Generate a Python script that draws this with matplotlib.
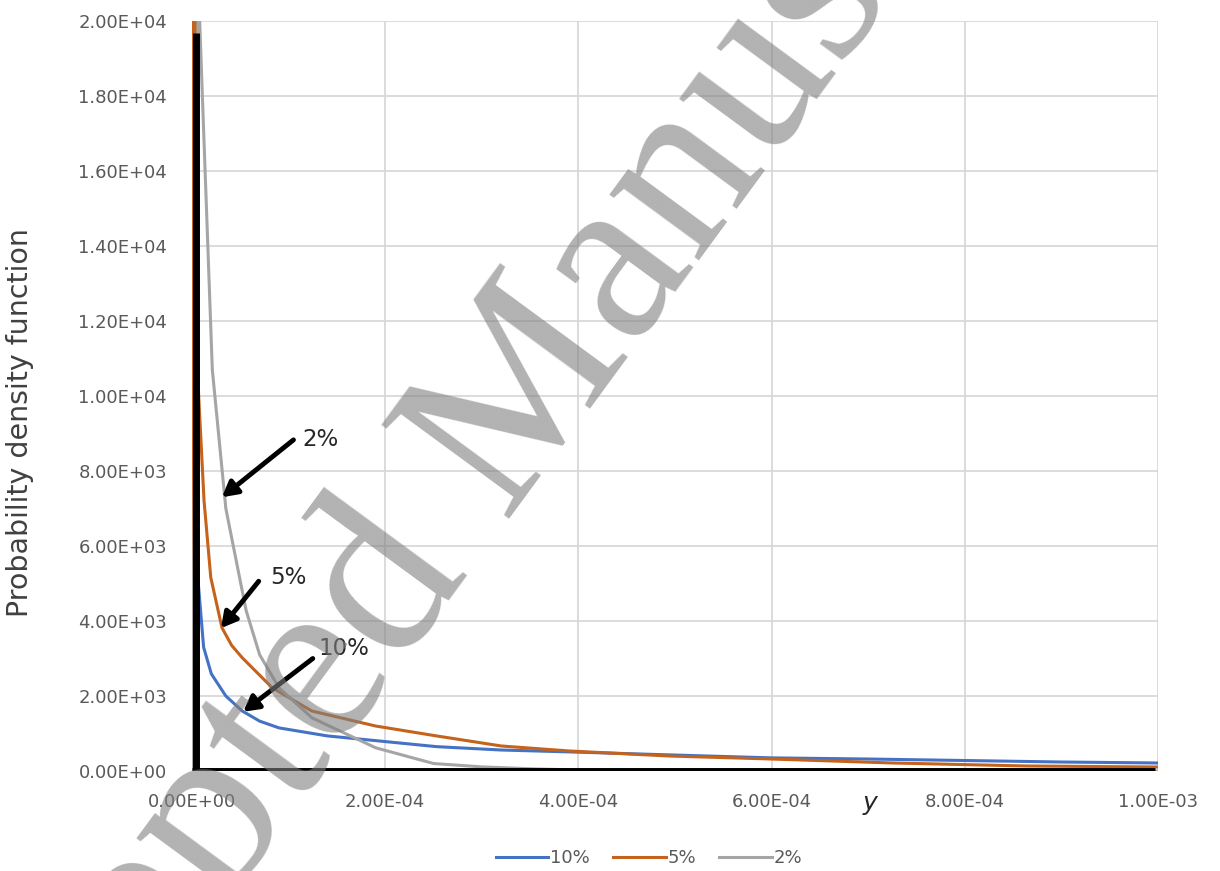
import matplotlib
matplotlib.use("Agg")
import matplotlib.pyplot as plt
from matplotlib.ticker import FuncFormatter

# Series (x in m, pdf values)
x_10 = [0, 3e-6, 6.5e-6, 1.2e-5, 2.0e-5, 3.5e-5, 5.2e-5, 7.0e-5, 9.0e-5, 1.4e-4, 1.94e-4, 2.53e-4,
        3.2e-4, 3.9e-4, 4.94e-4, 6.0e-4, 7.0e-4, 8.0e-4, 9.0e-4, 1.0e-3]
pdf_10 = [0, 5600, 5000, 3300, 2590, 2000, 1600, 1330, 1150, 936, 800, 650,
          560, 510, 430, 350, 320, 280, 240, 214]

x_5 = [0, 2e-6, 6.5e-6, 1.24e-5, 1.94e-5, 3.1e-5, 4.1e-5, 5.2e-5, 8.3e-5, 1.24e-4, 1.9e-4,
       2.53e-4, 3.2e-4, 3.9e-4, 4.94e-4, 6.0e-4, 7.25e-4, 8.64e-4, 1.0e-3]
pdf_5 = [0, 30000, 10200, 7220, 5160, 3820, 3350, 3020, 2220, 1600, 1200,
         936, 668, 535, 400, 320, 214, 134, 107]

x_2 = [0, 6.5e-6, 2.1e-5, 3.5e-5, 5.6e-5, 7.0e-5, 9.0e-5, 1.24e-4, 1.9e-4, 2.5e-4,
       3.0e-4, 3.56e-4, 4.2e-4, 5.0e-4, 1.0e-3]
pdf_2 = [0, 21000, 10700, 7000, 4280, 3100, 2220, 1420, 620, 200,
         110, 55, 15, 0, 0]

series_labels = ["10%", "5%", "2%"]
series_colors = ["#4472C4", "#C5621C", "#A5A5A5"]

# Arrow annotations: label, text position, arrow tail, arrow tip (data coords)
annotations = [
    ("2%", (1.14e-4, 8850), (1.05e-4, 8830), (3.1e-5, 7300)),
    ("5%", (8.1e-5, 5150), (6.9e-5, 5060), (3.0e-5, 3810)),
    ("10%", (1.31e-4, 3260), (1.25e-4, 3000), (5.3e-5, 1580)),
]

X_MAX = 1e-3
Y_MAX = 2e4
BAR_X = 4e-6          # thick black vertical line drawn near x = 0
BAR_TOP = 19680
BAR_RIGHT = 0.997e-3

FONT = "DejaVu Sans"
TICK_COLOR = "#595959"

fig = plt.figure(figsize=(12.2, 8.71), dpi=100)
ax = fig.add_axes([0.1574, 0.1148, 0.7918, 0.8611])

for xs, ys, lab, col in zip([x_10, x_5, x_2], [pdf_10, pdf_5, pdf_2], series_labels, series_colors):
    ax.plot(xs, ys, color=col, lw=2.2, label=lab, solid_joinstyle="round", zorder=3)

ax.set_xlim(0, X_MAX)
ax.set_ylim(0, Y_MAX)
ax.set_xticks([i * 2e-4 for i in range(6)])
ax.set_yticks([i * 2000 for i in range(11)])
fmt = FuncFormatter(lambda v, p: "%.2E" % v)
ax.xaxis.set_major_formatter(fmt)
ax.yaxis.set_major_formatter(fmt)
ax.grid(True, color="#D6D6D6", lw=1.2)
ax.set_axisbelow(True)
for s in ax.spines.values():
    s.set_visible(False)
ax.tick_params(length=0, labelsize=13, labelcolor=TICK_COLOR)
ax.tick_params(axis="x", pad=16)
ax.tick_params(axis="y", pad=18)
for t in ax.get_xticklabels() + ax.get_yticklabels():
    t.set_fontfamily(FONT)

# thick black axis lines
ax.plot([BAR_X, BAR_X], [0, BAR_TOP], color="black", lw=5, solid_capstyle="butt", zorder=5)
ax.plot([0, BAR_RIGHT], [0, 0], color="black", lw=5, solid_capstyle="butt", zorder=5)

ax.set_ylabel("Probability density function", fontfamily=FONT, fontsize=20.5, color="#404040")
ax.yaxis.set_label_coords(-0.164, 0.464)
ax.text(7.02e-4, -0.042, "y", transform=ax.get_xaxis_transform(), ha="center", va="center",
        fontsize=18, style="italic", color="#262626", fontfamily=FONT)

for lab, tpos, tail, tip in annotations:
    ax.text(tpos[0], tpos[1], lab, fontsize=16.5, fontfamily=FONT, color="#262626", va="center", ha="left", zorder=6)
    ax.annotate("", xy=tip, xytext=tail,
                arrowprops=dict(arrowstyle="-|>,head_width=0.5,head_length=0.9", lw=3.5, color="black",
                                shrinkA=0, shrinkB=0), zorder=6)

fig.legend(*ax.get_legend_handles_labels(), loc="center", bbox_to_anchor=(0.532, 0.015), ncol=3,
           frameon=False, handlelength=2.9, handletextpad=0.1, columnspacing=1.3,
           prop={"family": FONT, "size": 13}, labelcolor=TICK_COLOR)

# watermark
fig.text(0.407, 0.497, "Accepted Manuscript", fontsize=174, fontfamily="Liberation Serif",
         color="#7F7F7F", alpha=0.6, rotation=53.7, ha="center", va="center",
         rotation_mode="anchor", zorder=10)

fig.savefig("out.png", dpi=100)
